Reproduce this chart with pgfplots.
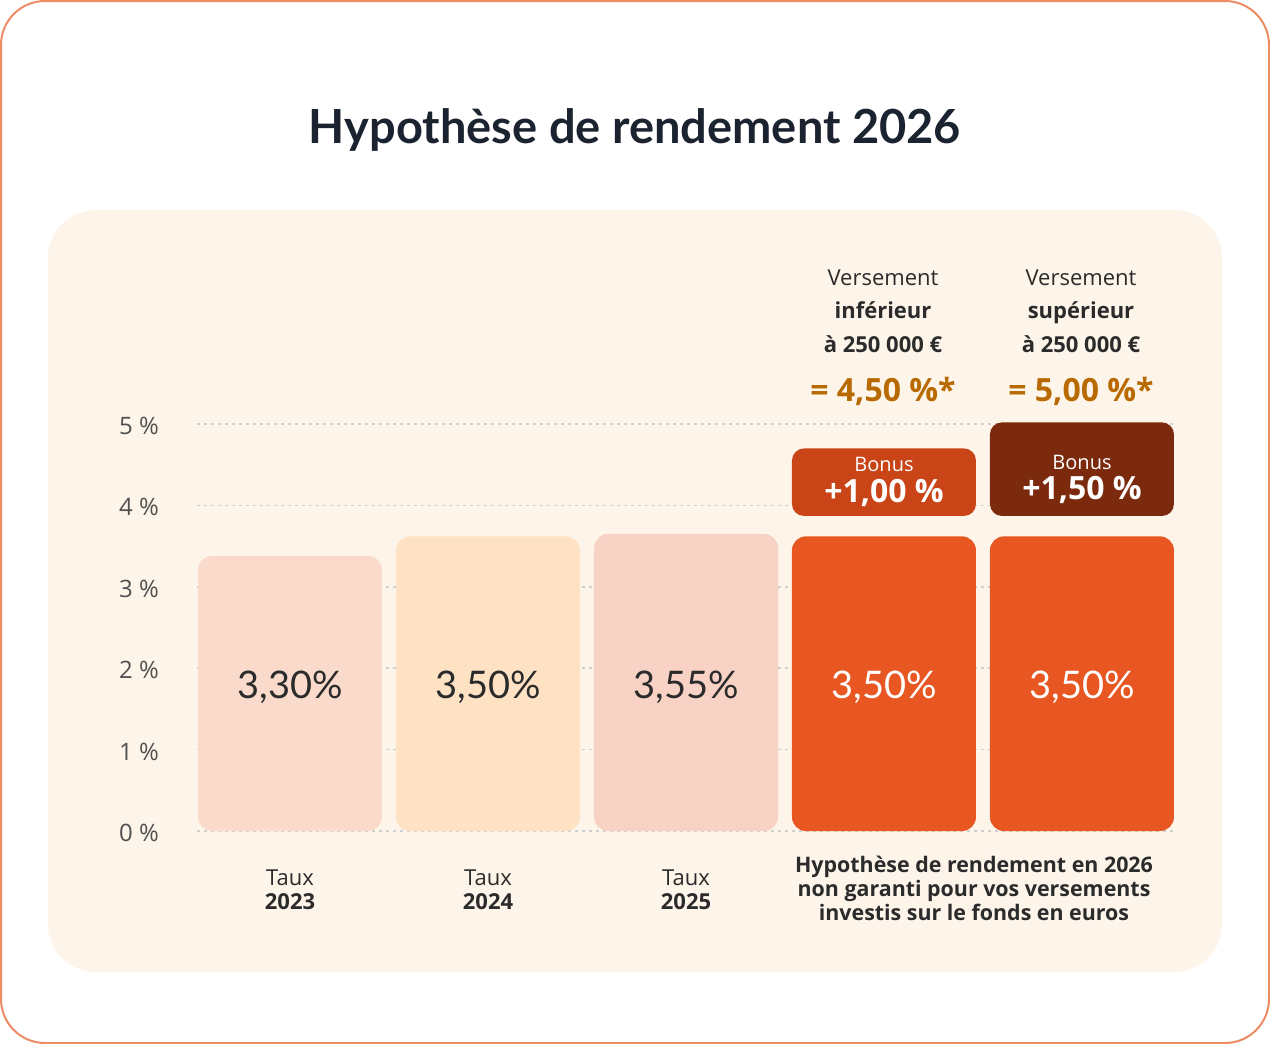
\documentclass[border=0pt]{standalone}
\usepackage{fontspec}
\setmainfont{Open Sans}
\newfontfamily\latofont{Lato}
\usepackage{pgfplots}
\pgfplotsset{compat=1.18}

\definecolor{bordercol}{HTML}{EC8C64}
\definecolor{panel}{HTML}{FEF5EA}
\definecolor{titlecol}{HTML}{1C2330}
\definecolor{txt}{HTML}{2B2B2B}
\definecolor{ticktxt}{HTML}{505050}
\definecolor{gridcol}{HTML}{CFCFCF}
\definecolor{rateorange}{HTML}{B86A00}
\definecolor{baru}{HTML}{FADACA}
\definecolor{barv}{HTML}{FFE2C4}
\definecolor{barw}{HTML}{F9D2C6}
\definecolor{barx}{HTML}{E85622}
\definecolor{bonusa}{HTML}{C94416}
\definecolor{bonusb}{HTML}{7C2A0E}

\begin{document}
\begin{tikzpicture}
\begin{scope}[x=0.5pt,y=-0.5pt]
  \useasboundingbox (0,0) rectangle (1270,1044);
  \draw[bordercol, line width=1pt, fill=white, rounded corners=22pt] (1,1) rectangle (1269,1043);
  \fill[panel, rounded corners=24pt] (48,210) rectangle (1222,972);
  \node[anchor=base, text=titlecol, font=\latofont\bfseries\fontsize{23.5}{28}\selectfont] at (635,143) {Hypothèse de rendement 2026};
\end{scope}

\begin{axis}[
  at={(98.5pt,-415.5pt)}, anchor=south west,
  scale only axis, width=488.5pt, height=203.5pt,
  xmin=-0.47, xmax=4.465, ymin=0, ymax=5,
  clip=false,
  ybar stacked, bar width=92pt,
  axis line style={draw=none},
  tick style={draw=none},
  xtick=\empty,
  ytick={0,1,2,3,4,5},
  yticklabel={\pgfmathprintnumber{\tick}~\%},
  /pgf/number format/assume math mode=true,
  yticklabel style={text=ticktxt, font=\fontsize{12}{14}\selectfont, anchor=east, xshift=-15.5pt, yshift=-1pt},
  ymajorgrids,
  grid style={gridcol, line width=0.75pt, dash pattern=on 1.5pt off 2pt},
  every axis plot/.append style={draw=none},
]
% base rates
\addplot[fill=baru, rounded corners=7pt] coordinates {(0,3.38) (1,0) (2,0) (3,0) (4,0)};
\addplot[fill=barv, rounded corners=7pt] coordinates {(0,0) (1,3.62) (2,0) (3,0) (4,0)};
\addplot[fill=barw, rounded corners=7pt] coordinates {(0,0) (1,0) (2,3.65) (3,0) (4,0)};
\addplot[fill=barx, rounded corners=7pt] coordinates {(0,0) (1,0) (2,0) (3,3.62) (4,3.62)};
% gap between base and bonus
\addplot[fill=none] coordinates {(0,0) (1,0) (2,0) (3,0.25) (4,0.25)};
% bonus
\addplot[fill=bonusa, rounded corners=6pt] coordinates {(0,0) (1,0) (2,0) (3,0.83) (4,0)};
\addplot[fill=bonusb, rounded corners=6pt] coordinates {(0,0) (1,0) (2,0) (3,0) (4,1.15)};
\end{axis}

\begin{scope}[x=0.5pt,y=-0.5pt]
  % values inside bars
  \foreach \cx/\lab/\col in {290/{3,30\%}/txt, 488/{3,50\%}/txt, 686/{3,55\%}/txt, 884/{3,50\%}/white, 1082/{3,50\%}/white}
    \node[anchor=base, text=\col, font=\latofont\fontsize{19}{22}\selectfont] at (\cx,698) {\lab};
  % x labels
  \foreach \cx/\yr in {290/2023, 488/2024, 686/2025} {
    \node[anchor=base, text=txt, font=\fontsize{11}{13}\selectfont] at (\cx,885) {Taux};
    \node[anchor=base, text=txt, font=\bfseries\fontsize{11}{13}\selectfont] at (\cx,909) {\yr};
  }
  \node[anchor=base, text=txt, font=\bfseries\fontsize{10.7}{13}\selectfont] at (974,872) {Hypothèse de rendement en 2026};
  \node[anchor=base, text=txt, font=\bfseries\fontsize{10.7}{13}\selectfont] at (974,896) {non garanti pour vos versements};
  \node[anchor=base, text=txt, font=\bfseries\fontsize{10.7}{13}\selectfont] at (974,920) {investis sur le fonds en euros};
  % bonus labels
  \node[anchor=base, text=white, font=\fontsize{10}{12}\selectfont] at (884,471) {Bonus};
  \node[anchor=base, text=white, font=\bfseries\fontsize{16}{18}\selectfont] at (884,502) {+1,00 \%};
  \node[anchor=base, text=white, font=\fontsize{10}{12}\selectfont] at (1082,469) {Bonus};
  \node[anchor=base, text=white, font=\bfseries\fontsize{16}{18}\selectfont] at (1082,499) {+1,50 \%};
  % headers
  \foreach \cx/\word/\rate in {883/inférieur/{= 4,50 \%*}, 1081/supérieur/{= 5,00 \%*}} {
    \node[anchor=base, text=txt, font=\fontsize{11}{13}\selectfont] at (\cx,285) {Versement};
    \node[anchor=base, text=txt, font=\bfseries\fontsize{11}{13}\selectfont] at (\cx,318) {\word};
    \node[anchor=base, text=txt, font=\bfseries\fontsize{11}{13}\selectfont] at (\cx,352) {à 250 000 €};
    \node[anchor=base, text=rateorange, font=\bfseries\fontsize{16}{18}\selectfont] at (\cx,401) {\rate};
  }
\end{scope}
\end{tikzpicture}
\end{document}
